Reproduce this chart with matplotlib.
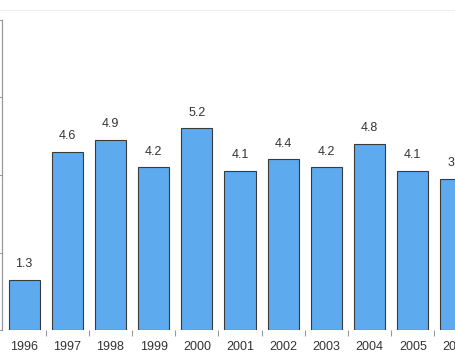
import matplotlib
matplotlib.use("Agg")
import matplotlib.pyplot as plt
from matplotlib.lines import Line2D

years = ["1996", "1997", "1998", "1999", "2000", "2001", "2002", "2003", "2004", "2005", "2006"]
values = [1.3, 4.6, 4.9, 4.2, 5.2, 4.1, 4.4, 4.2, 4.8, 4.1, 3.9]
y_ticks = [0, 2, 4, 6, 8]

fig = plt.figure(figsize=(4.56, 3.6), dpi=100)
ax = fig.add_axes([2.5 / 456, 30 / 360, 453.5 / 456, 310 / 360])

x = list(range(len(years)))
ax.bar(x, values, width=0.72, color="#5DAAEE", edgecolor="#3a3a3a", linewidth=0.8, zorder=3)
for xi, v in zip(x, values):
    ax.annotate(f"{v}", (xi, v), xytext=(0, 7), textcoords="offset points",
                ha="center", va="bottom", fontsize=9, color="#333333",
                family="Liberation Sans", annotation_clip=False)

ax.set_xlim(-0.5, 10.0)
ax.set_ylim(0, 8)
ax.set_yticks(y_ticks)
ax.set_yticklabels([])
ax.tick_params(axis="y", direction="out", length=4, color="#999999", width=0.8)

ax.set_xticks([i + 0.5 for i in range(len(years) - 1)])
ax.set_xticklabels([])
ax.set_xticks(x, minor=True)
ax.set_xticklabels(years, minor=True, fontsize=9, color="#333333", family="Liberation Sans")
ax.tick_params(axis="x", which="major", direction="out", length=4, color="#999999", width=0.8)
ax.tick_params(axis="x", which="minor", length=0, pad=8)

for s in ["top", "right", "bottom"]:
    ax.spines[s].set_visible(False)
ax.spines["left"].set_color("#999999")
ax.spines["left"].set_linewidth(0.9)

fig.add_artist(Line2D([0, 1], [1 - 10 / 360, 1 - 10 / 360], transform=fig.transFigure,
                      color="#eeeeee", linewidth=0.8))

fig.savefig("out.png", dpi=100)
